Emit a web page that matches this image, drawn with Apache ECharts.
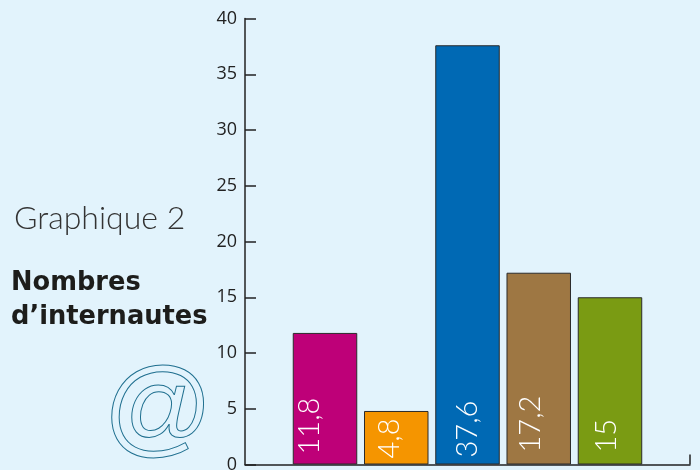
<!DOCTYPE html>
<html><head><meta charset="utf-8">
<style>html,body{margin:0;padding:0;background:#E2F3FC}#c{width:700px;height:470px}</style>
<script src="https://cdn.jsdelivr.net/npm/echarts@6/dist/echarts.min.js"></script>
</head><body><div id="c"></div>
<script>
const barIndex = [0, 1, 2, 3, 4];
const values = [11.8, 4.8, 37.6, 17.2, 15];
const barColors = ['#BE0078', '#F59500', '#0069B4', '#9E7743', '#7A9B13'];
const labelShift = [-15, -7, 0, -8, -3];
const labelLift = [10, 6, 7, 12, 12];
const chart = echarts.init(document.getElementById('c'), null, {renderer: 'canvas'});
const axisMin = -1.123, axisMax = 5.123;
chart.setOption({
  animation: false,
  backgroundColor: '#E2F3FC',
  grid: {left: 245, right: 10, top: 18.5, bottom: 5.5, outerBoundsMode: 'none'},
  xAxis: {
    type: 'value', min: axisMin, max: axisMax,
    splitLine: {show: false},
    axisLabel: {show: false},
    axisLine: {show: true, onZero: false, lineStyle: {color: '#222', width: 1.5}},
    axisTick: {show: true, inside: true, length: 10, customValues: [axisMax], lineStyle: {color: '#222', width: 1.5}}
  },
  yAxis: {
    type: 'value', min: 0, max: 40, interval: 5,
    splitLine: {show: false},
    axisLine: {show: true, onZero: false, lineStyle: {color: '#222', width: 1.5}},
    axisTick: {show: true, inside: true, length: 11, lineStyle: {color: '#222', width: 1.5}},
    axisLabel: {color: '#222', fontFamily: 'Open Sans', fontSize: 18, margin: 8}
  },
  series: [{
    type: 'bar', barWidth: 64.5,
    data: barIndex.map((x, i) => ({
      value: [x, values[i]],
      itemStyle: {color: barColors[i], borderColor: '#2b2b2b', borderWidth: 1},
      label: {offset: [labelLift[i], labelShift[i]]}
    })),
    label: {
      show: true, position: 'insideBottom', rotate: 90, distance: 0, align: 'left', verticalAlign: 'middle',
      color: '#fff', fontFamily: 'Lato', fontWeight: 300, fontSize: 29,
      formatter: p => String(p.value[1]).replace('.', ',')
    }
  }],
  graphic: [
    {type: 'text', left: 14, top: 203, style: {text: 'Graphique 2', fill: '#333', font: '300 32px Lato'}},
    {type: 'text', left: 11, top: 270, style: {text: 'Nombres', fill: '#1d1d1b', font: 'bold 25.7px "DejaVu Sans"'}},
    {type: 'text', left: 11, top: 304, style: {text: 'd’internautes', fill: '#1d1d1b', font: 'bold 25.7px "DejaVu Sans"'}},
    {type: 'text', left: 101, top: 358, style: {text: '@', fill: 'rgba(0,0,0,0)', stroke: '#1F6F8F', lineWidth: 1, font: 'italic 108px "Liberation Sans"'}}
  ]
});
</script></body></html>
